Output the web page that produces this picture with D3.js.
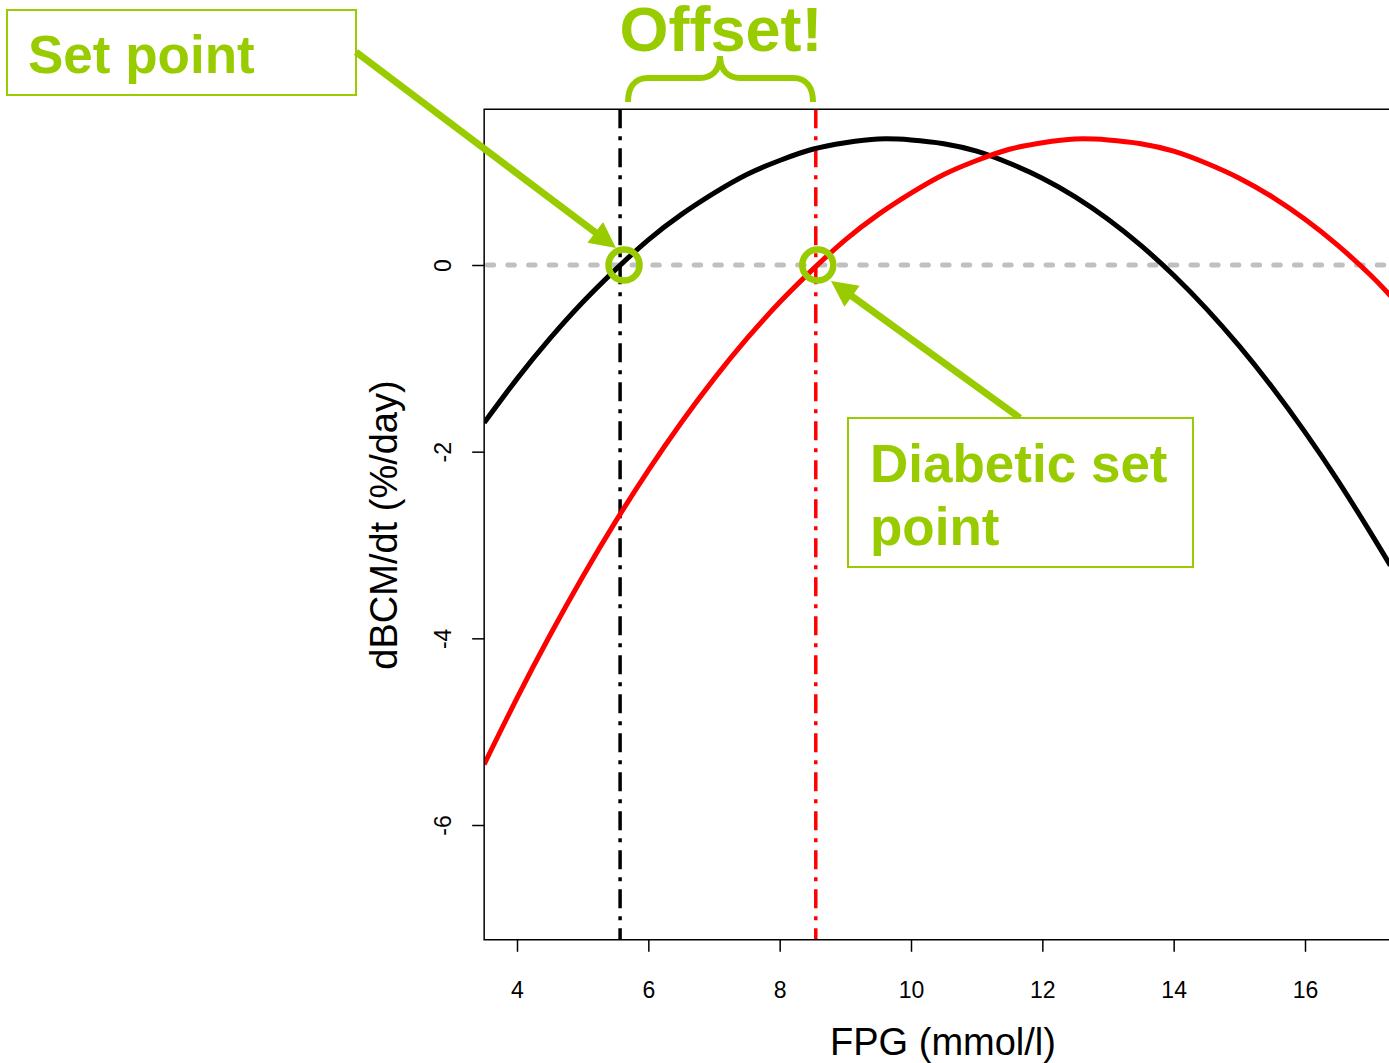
<!DOCTYPE html>
<html><head><meta charset="utf-8">
<script src="https://cdn.jsdelivr.net/npm/d3@7"></script>
<style>body{margin:0;background:#fff} svg{display:block}</style>
</head><body><svg id="c" width="1389" height="1063"></svg>
<script>
// ---- data ----
const xTicks = [4, 6, 8, 10, 12, 14, 16];
const yTicks = [-6, -4, -2, 0];
const normalX = [3.5,4,4.5,5,5.5,6,6.5,7,7.5,8,8.5,9,9.5,10,10.5,11,11.5,12,12.5,13,13.5,14,14.5,15,15.5,16,16.5,17,17.3];
const normalY = [-1.69,-1.22,-0.79,-0.40,-0.05,0.27,0.54,0.77,0.97,1.12,1.24,1.31,1.35,1.34,1.30,1.22,1.09,0.93,0.73,0.49,0.21,-0.11,-0.47,-0.87,-1.31,-1.79,-2.31,-2.87,-3.22];
const diabeticX = [3.5,4,4.5,5,5.5,6,6.5,7,7.5,8,8.5,9,9.5,10,10.5,11,11.5,12,12.5,13,13.5,14,14.5,15,15.5,16,16.5,17,17.3];
const diabeticY = [-5.35,-4.64,-3.97,-3.34,-2.75,-2.20,-1.69,-1.22,-0.79,-0.40,-0.05,0.27,0.54,0.77,0.97,1.12,1.24,1.31,1.35,1.34,1.30,1.22,1.09,0.93,0.73,0.49,0.21,-0.11,-0.33];
const setPoints = [5.57, 8.55];
const circlePoints = [5.63, 8.58];
const labels = {x: "FPG (mmol/l)", y: "dBCM/dt (%/day)", setPoint: "Set point", diabetic: ["Diabetic set", "point"], offset: "Offset!"};

// ---- layout ----
const svg = d3.select("#c");
const FONT = "'Liberation Sans', Arial, Helvetica, sans-serif";
const GREEN = "#99cc00";
const x = d3.scaleLinear().domain([4, 16]).range([517, 1305]);
const y = d3.scaleLinear().domain([0, -6]).range([265, 825]);
const xMin = 3.5, xMax = 17.45, yMin = -7.23, yMax = 1.67;
const L = x(xMin), R = x(xMax), T = y(yMax), B = y(yMin);

svg.append("defs").append("clipPath").attr("id", "clip")
  .append("rect").attr("x", L).attr("y", T).attr("width", R - L).attr("height", B - T);

// zero line
svg.append("line").attr("x1", L + 3).attr("x2", R).attr("y1", y(0)).attr("y2", y(0))
  .attr("stroke", "#c0c0c0").attr("stroke-width", 5).attr("stroke-dasharray", "6.5,14.2")
  .attr("stroke-linecap", "round").attr("clip-path", "url(#clip)");

// vertical set-point lines
const vcol = ["#000", "#ff0000"];
setPoints.forEach((sp, i) => {
  svg.append("line").attr("x1", x(sp)).attr("x2", x(sp)).attr("y1", T).attr("y2", B)
    .attr("stroke", vcol[i]).attr("stroke-width", 3.5).attr("stroke-dasharray", "19,8,4,8");
});

// curves
const line = d3.line().x(d => x(d[0])).y(d => y(d[1])).curve(d3.curveNatural);
const g = svg.append("g").attr("clip-path", "url(#clip)");
g.append("path").attr("d", line(normalX.map((v, i) => [v, normalY[i]])))
  .attr("fill", "none").attr("stroke", "#000").attr("stroke-width", 5);
g.append("path").attr("d", line(diabeticX.map((v, i) => [v, diabeticY[i]])))
  .attr("fill", "none").attr("stroke", "#ff0000").attr("stroke-width", 5);

// box
svg.append("path").attr("d", `M${R},${T}H${L}V${B}H${R}`)
  .attr("fill", "none").attr("stroke", "#000").attr("stroke-width", 1.5);

// x axis
const xa = svg.append("g").attr("transform", `translate(0,${B})`)
  .call(d3.axisBottom(x).tickValues(xTicks).tickSize(12).tickPadding(30).tickFormat(d3.format("d")));
xa.select(".domain").remove();
xa.selectAll("line").attr("stroke-width", 1.5);
xa.selectAll("text").attr("font-family", FONT).attr("font-size", 23).attr("fill", "#000");

// y axis
const ya = svg.append("g").attr("transform", `translate(${L},0)`)
  .call(d3.axisLeft(y).tickValues(yTicks).tickSize(12).tickFormat(d3.format("d")));
ya.select(".domain").remove();
ya.selectAll("line").attr("stroke-width", 1.5);
ya.selectAll("text").remove();
ya.selectAll(".tick").append("text")
  .attr("transform", "translate(-33,0) rotate(-90)")
  .attr("text-anchor", "middle").attr("font-family", FONT).attr("font-size", 23).attr("fill", "#000")
  .text(d => d3.format("d")(d).replace("−", "-"));

// axis titles
svg.append("text").attr("x", 943).attr("y", 1055).attr("text-anchor", "middle")
  .attr("font-family", FONT).attr("font-size", 38).text(labels.x);
svg.append("text").attr("transform", "translate(397,525) rotate(-90)").attr("text-anchor", "middle")
  .attr("font-family", FONT).attr("font-size", 38).text(labels.y);

// circles
circlePoints.forEach(cp => {
  svg.append("circle").attr("cx", x(cp)).attr("cy", y(0)).attr("r", 15.5)
    .attr("fill", "none").attr("stroke", GREEN).attr("stroke-width", 6.5);
});

// arrows
function arrow(x1, y1, x2, y2) {
  const dx = x2 - x1, dy = y2 - y1, len = Math.hypot(dx, dy);
  const ux = dx / len, uy = dy / len, px = -uy, py = ux;
  const hl = 26, hw = 13;
  const bx = x2 - ux * hl, by = y2 - uy * hl;
  svg.append("line").attr("x1", x1).attr("y1", y1).attr("x2", bx + ux * 2).attr("y2", by + uy * 2)
    .attr("stroke", GREEN).attr("stroke-width", 7);
  svg.append("path").attr("d", `M${x2},${y2}L${bx + px * hw},${by + py * hw}L${bx - px * hw},${by - py * hw}Z`)
    .attr("fill", GREEN);
}
arrow(356, 52, 616, 248);
arrow(1020, 418, 831, 281);

// label boxes
svg.append("rect").attr("x", 7).attr("y", 10).attr("width", 349).attr("height", 85)
  .attr("fill", "none").attr("stroke", GREEN).attr("stroke-width", 2);
svg.append("text").attr("x", 28).attr("y", 73).attr("font-family", FONT).attr("font-weight", "bold")
  .attr("font-size", 53).attr("fill", GREEN).text(labels.setPoint);

svg.append("rect").attr("x", 848).attr("y", 418).attr("width", 345).attr("height", 149)
  .attr("fill", "#fff").attr("stroke", GREEN).attr("stroke-width", 2);
labels.diabetic.forEach((t, i) => {
  svg.append("text").attr("x", 870).attr("y", 482 + i * 63).attr("font-family", FONT).attr("font-weight", "bold")
    .attr("font-size", 53).attr("fill", GREEN).text(t);
});

// offset brace
svg.append("path")
  .attr("d", "M628,102 C628,88 634,78 648,78 L700,78 C712,78 720,70 720,56 C720,70 728,78 740,78 L793,78 C807,78 813,88 813,102")
  .attr("fill", "none").attr("stroke", GREEN).attr("stroke-width", 6);
svg.append("text").attr("x", 721).attr("y", 51).attr("text-anchor", "middle").attr("font-family", FONT)
  .attr("font-weight", "bold").attr("font-size", 63).attr("fill", GREEN).text(labels.offset);
</script></body></html>
